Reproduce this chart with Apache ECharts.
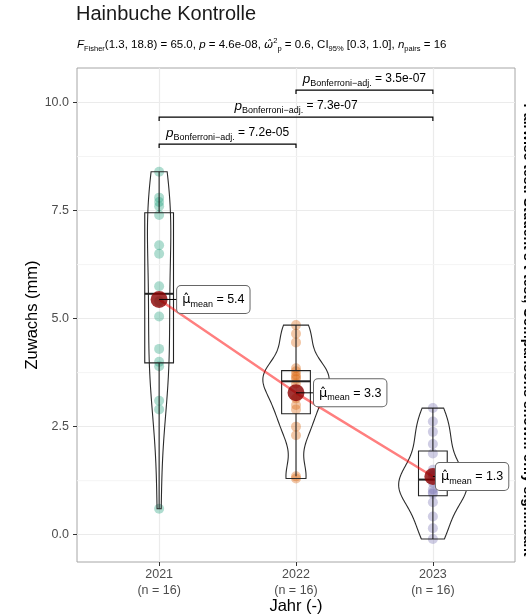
<!DOCTYPE html>
<html>
<head>
<meta charset="utf-8">
<script src="https://cdn.jsdelivr.net/npm/echarts@6/dist/echarts.min.js"></script>
<style>
  html, body { margin: 0; padding: 0; background: #fff; }
  #chart { width: 526px; height: 614px; }
</style>
</head>
<body>
<div id="chart"></div>
<script>
// Hainbuche Kontrolle - Zuwachs je Jahr
const years = ['2021', '2022', '2023'];
const groupSizes = ['(n = 16)', '(n = 16)', '(n = 16)'];
const zuwachs2021 = [8.4, 7.8, 7.7, 7.6, 7.4, 6.7, 6.5, 5.75, 5.4, 5.05, 4.3, 4.0, 3.9, 3.1, 2.9, 0.6];
const zuwachs2022 = [4.85, 4.65, 4.45, 3.85, 3.78, 3.7, 3.65, 3.6, 3.5, 3.15, 3.0, 2.9, 2.5, 2.3, 1.35, 1.3];
const zuwachs2023 = [2.93, 2.62, 2.38, 2.1, 1.88, 1.5, 1.4, 1.35, 1.2, 1.05, 0.98, 0.95, 0.75, 0.42, 0.15, -0.1];
const pairs = [[1, 2], [1, 3], [2, 3]];
const pairP = ['7.2e-05', '7.3e-07', '3.5e-07'];
const yTicks = [0, 2.5, 5, 7.5, 10];
const subtitle = '{i|F}{s|Fisher}{n|(1.3, 18.8) = 65.0, }{i|p}{n| = 4.6e-08, }{w|ω̂}{sp|2}{s|p}{n| = 0.6, CI}{s|95%}{n| [0.3, 1.0], }{i|n}{s|pairs}{n| = 16}';
const sideNote = 'Pairwise test: Student\'s t-test; Comparisons shown: only significant';

const groups = [zuwachs2021, zuwachs2022, zuwachs2023];
const colors = ['#1B9E77', '#D95F02', '#7570B3'];
const font = 'Liberation Sans, Arial, sans-serif';

function mean(a) { return a.reduce((s, v) => s + v, 0) / a.length; }
function quantile(a, p) {
  const s = [...a].sort((x, y) => x - y);
  const h = (s.length - 1) * p;
  const lo = Math.floor(h);
  const hi = Math.min(lo + 1, s.length - 1);
  return s[lo] + (h - lo) * (s[hi] - s[lo]);
}
function sd(a) {
  const m = mean(a);
  return Math.sqrt(a.reduce((s, v) => s + (v - m) ** 2, 0) / (a.length - 1));
}
function bwNrd0(a) {
  const lo = Math.min(sd(a), (quantile(a, 0.75) - quantile(a, 0.25)) / 1.34);
  return 0.9 * lo * Math.pow(a.length, -0.2);
}
function density(a, bw, y) {
  let s = 0;
  for (const v of a) { const z = (y - v) / bw; s += Math.exp(-0.5 * z * z); }
  return s / (a.length * bw * Math.sqrt(2 * Math.PI));
}

const means = groups.map(mean);

// violin outlines (trimmed, scale = area, width 0.5)
const dens = groups.map(a => {
  const bw = bwNrd0(a);
  const lo = Math.min(...a), hi = Math.max(...a);
  const out = [];
  for (let k = 0; k <= 120; k++) {
    const y = lo + (hi - lo) * k / 120;
    out.push([y, density(a, bw, y)]);
  }
  return out;
});
const maxD = Math.max(...dens.flat().map(d => d[1]));
const violins = dens.map((d, i) => {
  const x = i + 1;
  const right = d.map(([y, v]) => [x + v / maxD * 0.25, y]);
  const left = d.map(([y, v]) => [x - v / maxD * 0.25, y]).reverse();
  return right.concat(left);
});

const boxes = groups.map(a => {
  const q1 = quantile(a, 0.25), med = quantile(a, 0.5), q3 = quantile(a, 0.75);
  const iqr = q3 - q1;
  const inside = a.filter(v => v >= q1 - 1.5 * iqr && v <= q3 + 1.5 * iqr);
  return { q1, med, q3, lo: Math.min(...inside), hi: Math.max(...inside) };
});

const yMax = Math.max(...groups.flat());
const bracketData = pairs.map((p, i) => [p[0], p[1], yMax + 0.64 + i * 0.625]);
const yMinor = yTicks.slice(1).map((v, i) => (v + yTicks[i]) / 2);
const labelDx = [18, 18, 3];

const chart = echarts.init(document.getElementById('chart'));

const scatterSeries = groups.map((a, i) => ({
  type: 'scatter',
  data: a.map(v => [i + 1, v]),
  symbolSize: 10,
  itemStyle: { color: colors[i], opacity: 0.35 },
  silent: true,
  z: 3
}));

const option = {
  animation: false,
  title: [
    {
      text: 'Hainbuche Kontrolle',
      left: 76, top: 4, padding: 0,
      textStyle: { fontFamily: font, fontSize: 20, fontWeight: 'normal', color: '#1a1a1a' }
    },
    {
      text: subtitle,
      left: 77, top: 37, padding: 0,
      textStyle: {
        fontWeight: 'normal',
        rich: {
          n: { fontFamily: font, fontSize: 11.5, fontWeight: 'normal', color: '#000', lineHeight: 16 },
          i: { fontFamily: font, fontSize: 11.5, fontWeight: 'normal', fontStyle: 'italic', color: '#000', lineHeight: 16 },
          s: { fontFamily: font, fontSize: 7.5, fontWeight: 'normal', color: '#000', verticalAlign: 'bottom' },
          sp: { fontFamily: font, fontSize: 7.5, fontWeight: 'normal', color: '#000', verticalAlign: 'top' },
          w: { fontFamily: 'DejaVu Sans', fontSize: 11, fontWeight: 'normal', fontStyle: 'italic', color: '#000', lineHeight: 16 }
        }
      }
    }
  ],
  grid: {
    left: 77, right: 11, top: 68, bottom: 52,
    outerBoundsMode: 'none',
    show: true, borderColor: '#a6a6a6', borderWidth: 1
  },
  xAxis: {
    type: 'value', min: 0.4, max: 3.6,
    name: 'Jahr (-)', nameLocation: 'middle', nameGap: 36, nameMoveOverlap: false,
    nameTextStyle: { fontFamily: font, fontSize: 16.5, color: '#000' },
    axisLine: { show: false, onZero: false },
    axisTick: { show: true, customValues: [1, 2, 3], length: 4, lineStyle: { color: '#333' } },
    axisLabel: {
      customValues: [1, 2, 3], margin: 5,
      fontFamily: font, fontSize: 12.5, color: '#4d4d4d', lineHeight: 16,
      formatter: v => years[Math.round(v) - 1] + '\n' + groupSizes[Math.round(v) - 1]
    },
    splitLine: { show: true, lineStyle: { color: '#ebebeb', width: 1.2 } }
  },
  yAxis: {
    type: 'value', min: -0.632, max: 10.8,
    name: 'Zuwachs (mm)', nameLocation: 'middle', nameGap: 36, nameRotate: 90, nameMoveOverlap: false,
    nameTextStyle: { fontFamily: font, fontSize: 16.5, color: '#000' },
    axisLine: { show: false, onZero: false },
    axisTick: { show: true, customValues: yTicks, length: 4, lineStyle: { color: '#333' } },
    axisLabel: {
      customValues: yTicks, margin: 8,
      fontFamily: font, fontSize: 12.5, color: '#4d4d4d',
      formatter: v => v.toFixed(1)
    },
    splitLine: { show: true, lineStyle: { color: '#ebebeb', width: 1.2 } }
  },
  graphic: [{
    type: 'text', x: 528, y: 330, rotation: -Math.PI / 2,
    style: { text: sideNote, fontFamily: font, fontSize: 14, fontWeight: 'bold', fill: '#000', align: 'center', verticalAlign: 'middle' }
  }],
  series: [
    {
      // minor grid lines
      type: 'custom', silent: true, z: 0,
      data: yMinor.map(v => [1, v]),
      renderItem: (params, api) => {
        const y = api.coord([1, api.value(1)])[1];
        const cs = params.coordSys;
        return { type: 'line', shape: { x1: cs.x, y1: y, x2: cs.x + cs.width, y2: y }, style: { stroke: '#f4f4f4', lineWidth: 1 } };
      }
    },
    ...scatterSeries,
    {
      // violins
      type: 'custom', silent: true, z: 4,
      data: violins.map((v, i) => [i + 1, 0]),
      renderItem: (params, api) => ({
        type: 'polygon',
        shape: { points: violins[params.dataIndex].map(p => api.coord(p)) },
        style: { fill: 'none', stroke: '#2b2b2b', lineWidth: 1.1 }
      })
    },
    {
      // boxes
      type: 'custom', silent: true, z: 4,
      data: boxes.map((b, i) => [i + 1, b.med]),
      renderItem: (params, api) => {
        const b = boxes[params.dataIndex];
        const x = params.dataIndex + 1;
        const hw = 0.105;
        const tl = api.coord([x - hw, b.q3]);
        const br = api.coord([x + hw, b.q1]);
        const cx = api.coord([x, 0])[0];
        const yHi = api.coord([x, b.hi])[1], yLo = api.coord([x, b.lo])[1];
        const yMed = api.coord([x, b.med])[1];
        const st = { stroke: '#222', lineWidth: 1.1, fill: 'none' };
        return {
          type: 'group', children: [
            { type: 'line', shape: { x1: cx, y1: yHi, x2: cx, y2: tl[1] }, style: st },
            { type: 'line', shape: { x1: cx, y1: br[1], x2: cx, y2: yLo }, style: st },
            { type: 'rect', shape: { x: tl[0], y: tl[1], width: br[0] - tl[0], height: br[1] - tl[1] }, style: st },
            { type: 'line', shape: { x1: tl[0], y1: yMed, x2: br[0], y2: yMed }, style: { stroke: '#222', lineWidth: 2 } }
          ]
        };
      }
    },
    {
      type: 'line', silent: true, z: 5,
      data: means.map((m, i) => [i + 1, m]),
      symbol: 'none',
      lineStyle: { color: 'rgba(255,0,0,0.5)', width: 2.5 }
    },
    {
      type: 'scatter', silent: true, z: 6,
      data: means.map((m, i) => [i + 1, m]),
      symbolSize: 17,
      itemStyle: { color: '#8B0000' }
    },
    {
      // mean labels
      type: 'custom', silent: true, z: 7,
      data: means.map((m, i) => [i + 1, m]),
      renderItem: (params, api) => {
        const i = params.dataIndex;
        const c = api.coord([api.value(0), api.value(1)]);
        const dx = labelDx[i];
        return {
          type: 'group', children: [
            { type: 'line', shape: { x1: c[0], y1: c[1], x2: c[0] + dx, y2: c[1] }, style: { stroke: '#000', lineWidth: 1 } },
            {
              type: 'text', x: c[0] + dx, y: c[1],
              style: {
                text: '{mu|μ̂}{sub|mean}{eq| = ' + means[i].toFixed(1) + '}',
                align: 'left', verticalAlign: 'middle',
                backgroundColor: '#fff', borderColor: '#666', borderWidth: 1, borderRadius: 4,
                padding: [5, 5, 4, 5],
                rich: {
                  mu: { fontFamily: 'DejaVu Sans', fontSize: 13, fill: '#000', lineHeight: 18 },
                  sub: { fontFamily: font, fontSize: 9, fill: '#000', verticalAlign: 'bottom' },
                  eq: { fontFamily: font, fontSize: 12.5, fill: '#000', lineHeight: 18 }
                }
              }
            }
          ]
        };
      }
    },
    {
      // significance brackets
      type: 'custom', silent: true, z: 7,
      data: bracketData,
      encode: { x: [0, 1], y: 2 },
      renderItem: (params, api) => {
        const i = params.dataIndex;
        const p1 = api.coord([api.value(0), api.value(2)]);
        const p2 = api.coord([api.value(1), api.value(2)]);
        return {
          type: 'group', children: [
            {
              type: 'polyline',
              shape: { points: [[p1[0], p1[1] + 4], p1, p2, [p2[0], p2[1] + 4]] },
              style: { stroke: '#000', lineWidth: 1.2, fill: 'none' }
            },
            {
              type: 'text', x: (p1[0] + p2[0]) / 2, y: p1[1] - 2,
              style: {
                text: '{p|p}{sub|Bonferroni−adj.}{eq| = ' + pairP[i] + '}',
                align: 'center', verticalAlign: 'bottom',
                rich: {
                  p: { fontFamily: font, fontSize: 13.5, fontStyle: 'italic', fill: '#000', lineHeight: 18 },
                  sub: { fontFamily: font, fontSize: 9, fill: '#000', verticalAlign: 'bottom' },
                  eq: { fontFamily: font, fontSize: 12, fill: '#000', lineHeight: 18 }
                }
              }
            }
          ]
        };
      }
    }
  ]
};

chart.setOption(option);
</script>
</body>
</html>
